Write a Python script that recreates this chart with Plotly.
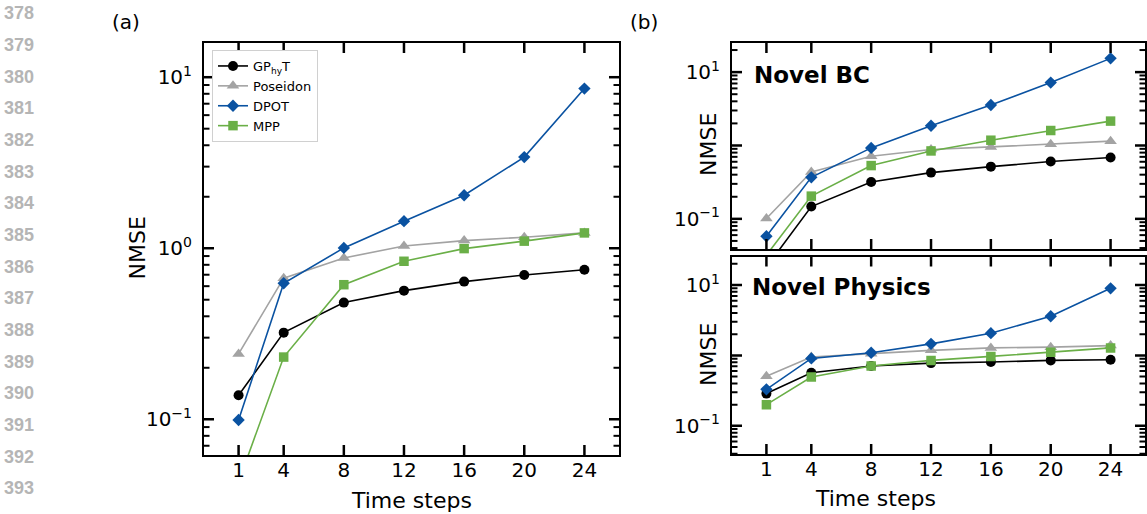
import plotly.graph_objects as go

W, H = 1147, 514

# ---------------- data ----------------
time_steps = [1, 4, 8, 12, 16, 20, 24]
models = ["GP<sub>hy</sub>T", "Poseidon", "DPOT", "MPP"]

# panel (a)
a_gphyt = [0.138, 0.321, 0.481, 0.565, 0.638, 0.698, 0.749]
a_poseidon = [0.241, 0.668, 0.877, 1.03, 1.108, 1.16, 1.229]
a_dpot = [0.099, 0.624, 1.004, 1.44, 2.04, 3.41, 8.58]
a_mpp = [0.043, 0.231, 0.612, 0.839, 0.995, 1.10, 1.229]

# panel (b) Novel BC
bc_gphyt = [0.022, 0.147, 0.318, 0.427, 0.515, 0.604, 0.685]
bc_poseidon = [0.101, 0.435, 0.713, 0.881, 0.957, 1.04, 1.145]
bc_dpot = [0.058, 0.368, 0.927, 1.857, 3.56, 7.2, 15.4]
bc_mpp = [0.032, 0.204, 0.532, 0.843, 1.18, 1.60, 2.15]

# panel (b) Novel Physics
ph_gphyt = [0.287, 0.569, 0.706, 0.778, 0.805, 0.85, 0.869]
ph_poseidon = [0.505, 0.946, 1.06, 1.18, 1.28, 1.31, 1.38]
ph_dpot = [0.33, 0.907, 1.09, 1.46, 2.07, 3.6, 8.97]
ph_mpp = [0.2, 0.493, 0.706, 0.85, 0.968, 1.11, 1.28]

line_numbers = list(range(378, 394))

colors = ["#000000", "#a3a3a3", "#0a52a1", "#6aaf47"]
symbols = ["circle", "triangle-up", "diamond", "square"]
msizes = [10, 11, 9.5, 9.5]

# ---------------- helpers ----------------
def px(x):
    return x / W

def py(y):
    return 1 - y / H

FONT = "DejaVu Sans"

fig = go.Figure()

panels = [
    ("x", "y", [a_gphyt, a_poseidon, a_dpot, a_mpp], True),
    ("x2", "y2", [bc_gphyt, bc_poseidon, bc_dpot, bc_mpp], False),
    ("x3", "y3", [ph_gphyt, ph_poseidon, ph_dpot, ph_mpp], False),
]
for xa, ya, series, show in panels:
    for i, vals in enumerate(series):
        fig.add_trace(go.Scatter(
            x=time_steps, y=vals, xaxis=xa, yaxis=ya,
            mode="lines+markers", name=models[i], showlegend=show,
            line=dict(color=colors[i], width=1.6),
            marker=dict(symbol=symbols[i], size=msizes[i], color=colors[i]),
        ))

major_vals = [0.1, 1, 10]
minor_vals = [m * 10 ** e for e in (-2, -1, 0, 1) for m in range(2, 10)]
XRANGE = [-1.3, 26.3]

def xaxis_cfg(domain, anchor, labels=True):
    return dict(
        domain=domain, anchor=anchor, range=XRANGE,
        tickmode="array", tickvals=time_steps,
        ticktext=[str(t) for t in time_steps],
        showticklabels=labels,
        ticks="", showline=True, linewidth=2, linecolor="black", mirror=True,
        showgrid=False, zeroline=False,
        tickfont=dict(family=FONT, size=20, color="black"),
        ticklabelstandoff=-4,
    )

def yaxis_cfg(domain, anchor, rng, ticktext):
    return dict(
        domain=domain, anchor=anchor, type="log", range=rng,
        tickmode="array", tickvals=major_vals, ticktext=ticktext,
        ticks="", showline=True, linewidth=2, linecolor="black", mirror=True,
        showgrid=False, zeroline=False,
        tickfont=dict(family=FONT, size=20, color="black"),
        ticklabelstandoff=6,
    )

full = ["10<sup>−1</sup>", "10<sup>0</sup>", "10<sup>1</sup>"]
partial = ["10<sup>−1</sup>", "", "10<sup>1</sup>"]

yr1, yr2, yr3 = [-1.209, 1.2], [-1.411, 1.397], [-1.40, 1.405]
# panel boxes in pixels: (left, right, top, bottom)
boxes = [(204, 619, 43, 455), (732, 1145, 43, 249), (732, 1145, 256.5, 454)]

# tick marks (inside, on all four sides) drawn as line traces on each subplot,
# with lengths converted from pixels through each axis range
for (xa, ya, rng), (l, r, t, b) in zip((("x", "y", yr1), ("x2", "y2", yr2), ("x3", "y3", yr3)), boxes):
    pw, ph = r - l, b - t
    xspan = XRANGE[1] - XRANGE[0]
    yspan = rng[1] - rng[0]
    lo, hi = 10 ** rng[0], 10 ** rng[1]
    dy = yspan * 10.0 / ph
    tx, ty = [], []
    for ts in time_steps:
        tx += [ts, ts, None, ts, ts, None]
        ty += [10 ** (rng[0] - 0.02), 10 ** (rng[0] + dy), None,
               10 ** (rng[1] + 0.02), 10 ** (rng[1] - dy), None]
    dxM = xspan * 10.0 / pw
    for v in major_vals:
        if lo < v < hi:
            tx += [XRANGE[0] - 0.2, XRANGE[0] + dxM, None, XRANGE[1] + 0.2, XRANGE[1] - dxM, None]
            ty += [v, v, None, v, v, None]
    fig.add_trace(go.Scatter(x=tx, y=ty, xaxis=xa, yaxis=ya, mode="lines",
                             line=dict(color="black", width=2.5), showlegend=False,
                             hoverinfo="skip", connectgaps=False))
    dxm = xspan * 5.5 / pw
    mx, my = [], []
    for v in minor_vals:
        if lo < v < hi:
            mx += [XRANGE[0] - 0.2, XRANGE[0] + dxm, None, XRANGE[1] + 0.2, XRANGE[1] - dxm, None]
            my += [v, v, None, v, v, None]
    fig.add_trace(go.Scatter(x=mx, y=my, xaxis=xa, yaxis=ya, mode="lines",
                             line=dict(color="black", width=2), showlegend=False,
                             hoverinfo="skip", connectgaps=False))

fig.update_layout(
    width=W, height=H, margin=dict(l=0, r=0, t=0, b=0),
    paper_bgcolor="white", plot_bgcolor="white",
    font=dict(family=FONT, color="black"),
    xaxis=xaxis_cfg([px(204), px(619)], "y"),
    yaxis=yaxis_cfg([py(455), py(43)], "x", yr1, full),
    xaxis2=xaxis_cfg([px(732), px(1145)], "y2", labels=False),
    yaxis2=yaxis_cfg([py(249), py(43)], "x2", yr2, partial),
    xaxis3=xaxis_cfg([px(732), px(1145)], "y3"),
    yaxis3=yaxis_cfg([py(454), py(256.5)], "x3", yr3, partial),
    legend=dict(
        x=px(212), y=py(50), xanchor="left", yanchor="top",
        bgcolor="white", bordercolor="#d0d0d0", borderwidth=1,
        font=dict(family=FONT, size=13, color="black"),
        itemwidth=30, tracegroupgap=0,
    ),
    showlegend=True,
)

annotations = []
# axis titles
annotations.append(dict(x=px(122), y=py(248), text="NMSE", textangle=-90,
                        font=dict(family=FONT, size=22)))
annotations.append(dict(x=px(411), y=py(500), text="Time steps",
                        font=dict(family=FONT, size=22)))
annotations.append(dict(x=px(708), y=py(145), text="NMSE", textangle=-90,
                        font=dict(family=FONT, size=22)))
annotations.append(dict(x=px(708), y=py(355), text="NMSE", textangle=-90,
                        font=dict(family=FONT, size=22)))
annotations.append(dict(x=px(938), y=py(498), text="Time steps",
                        font=dict(family=FONT, size=22)))
# panel labels
annotations.append(dict(x=px(110), y=py(22), text="(a)", xanchor="left",
                        font=dict(family=FONT, size=20)))
annotations.append(dict(x=px(628), y=py(22), text="(b)", xanchor="left",
                        font=dict(family=FONT, size=20)))
annotations.append(dict(x=px(752), y=py(75), text="<b>Novel BC</b>", xanchor="left",
                        font=dict(family=FONT, size=23)))
annotations.append(dict(x=px(750), y=py(287), text="<b>Novel Physics</b>", xanchor="left",
                        font=dict(family=FONT, size=23)))
# line numbers
for i, num in enumerate(line_numbers):
    annotations.append(dict(x=px(2), y=py(13.3 + 31.67 * i), text="<b>%d</b>" % num,
                            xanchor="left",
                            font=dict(family="Liberation Sans", size=18, color="#b5b5b5")))
for a in annotations:
    a.update(xref="paper", yref="paper", showarrow=False, yanchor="middle")
fig.update_layout(annotations=annotations)

fig.write_html("out.html")
